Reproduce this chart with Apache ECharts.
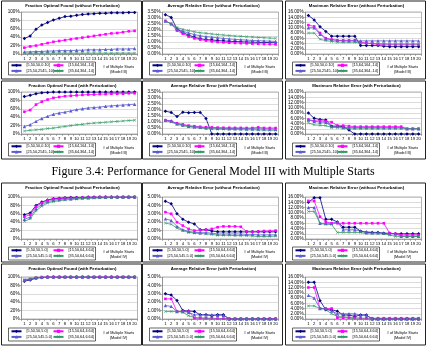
<!DOCTYPE html>
<html>
<head>
<meta charset="utf-8">
<script src="https://cdn.jsdelivr.net/npm/echarts@6.0.0/dist/echarts.min.js"></script>
<style>
  html, body { margin: 0; padding: 0; background: #fff; }
  #vis { width: 428px; height: 348px; }
</style>
</head>
<body>
<div id="vis"></div>
<script>
const starts = ['1','2','3','4','5','6','7','8','9','10','11','12','13','14','15','16','17','18','19','20'];
const namesIII = ['[5,50,50,0.10]', '[15,64,164,.14]', '[25,50,2545,.10]', '[35,64,364,.14]'];
const namesIV = ['[5,50,50,5.0]', '[15,50,64,4.64]', '[25,50,545,5.0]', '[35,50,64,6.64]'];
const caption = 'Figure 3.4: Performance for General Model III with Multiple Starts';

// Model III, values in percent
const fracNoPertIII = [
  [37,43,59,69,75,81,85,89,90,92,94,95,96,97,97,98,98,98,99,99],
  [15,18,20,23,26,29,31,33,35,37,39,41,43,45,47,49,50,52,54,55],
  [5,5,6,6,7,7,8,8,8,9,9,10,10,10,11,11,12,12,12,13],
  [2,2,2,2,2,2,2,2,2,2,2,2,2,2,2,2,2,2,2,2]
];
const avgNoPertIII = [
  [3.28,3.05,2.08,1.78,1.58,1.39,1.28,1.2,1.17,1.12,1.09,1.06,1.04,1.02,1.0,0.99,0.97,0.96,0.95,0.94],
  [2.75,2.5,1.95,1.7,1.45,1.3,1.2,1.12,1.05,1.0,0.97,0.94,0.92,0.9,0.88,0.86,0.85,0.83,0.82,0.8],
  [2.75,2.52,2.1,1.9,1.75,1.62,1.52,1.45,1.4,1.35,1.3,1.26,1.22,1.19,1.16,1.13,1.11,1.09,1.07,1.05],
  [2.75,2.52,2.2,2.05,1.95,1.85,1.77,1.72,1.67,1.62,1.58,1.54,1.5,1.47,1.44,1.41,1.38,1.36,1.33,1.31]
];
const maxNoPertIII = [
  [14.7,13,10.4,8.6,6.8,6.8,6.8,6.8,6.8,3.2,3.2,3.2,3.2,3.0,2.8,2.8,2.8,2.8,2.8,2.8],
  [11,10.5,8,6,5.5,5.2,5.2,5.2,5.2,4.5,4.2,4.0,3.6,3.5,3.5,3.5,3.5,3.5,3.5,3.5],
  [10,10,7.5,5.8,5.5,5.2,5.0,5.0,5.0,5.0,5.0,5.0,5.0,5.0,5.0,5.0,5.0,5.0,5.0,5.0],
  [8,8,5.6,5.1,4.8,4.5,4.5,4.5,4.5,4.1,4.0,4.0,4.0,3.9,3.8,3.8,3.8,3.8,3.8,3.8]
];
const fracPertIII = [
  [89,92,96,98,99,100,100,100,100,100,100,100,100,100,100,100,100,100,100,100],
  [53,57,70,77,82,86,88,90,91,92,93,94,94,95,95,96,96,96,97,97],
  [18,22,30,37,42,47,50,52,55,58,60,62,63,64,66,67,68,69,70,71],
  [7,9,10,11,13,14,16,18,20,22,23,25,26,27,28,29,30,31,32,33]
];
const avgPertIII = [
  [1.9,1.8,1.45,1.82,1.78,1.8,1.8,1.3,0,0,0,0,0,0,0,0,0,0,0,0],
  [1.15,1.05,0.9,0.8,0.7,0.65,0.6,0.57,0.55,0.53,0.52,0.52,0.51,0.51,0.5,0.5,0.55,0.5,0.5,0.5],
  [1.15,1.1,0.85,0.75,0.65,0.6,0.55,0.52,0.5,0.48,0.47,0.46,0.45,0.45,0.44,0.43,0.42,0.42,0.41,0.4],
  [1.1,1.0,0.8,0.7,0.6,0.55,0.5,0.45,0.42,0.4,0.39,0.38,0.37,0.36,0.35,0.35,0.34,0.33,0.32,0.31]
];
const maxPertIII = [
  [8,6,5.5,5.3,3,3,2.8,1.5,0,0,0,0,0,0,0,0,0,0,0,0],
  [5.5,5,5,4.8,4.5,3.2,3.2,3,2.8,2.8,2.8,2.8,2.8,2.8,2.8,2.8,2.8,2,2,2],
  [5.3,4.8,4.5,4.5,2.8,2.8,2.5,2.5,2.5,2.5,2.5,2.5,2.5,2.5,2.5,2.5,2.5,2,2,2],
  [4.2,3.5,3.3,3.2,2.5,2.5,2.2,2,2,2,2,2,2,2,2,2,2,2,2,2]
];

// Model IV, values in percent
const fracNoPertIV = [
  [58,62,80,88,93,96,97,98,99,99,99,100,100,100,100,100,100,100,100,100],
  [53,58,77,86,92,95,96,97,98,98,99,99,99,100,100,100,100,100,100,100],
  [47,52,72,82,89,92,94,95,96,97,98,98,99,99,99,100,100,100,100,100],
  [42,48,67,78,86,89,91,93,94,95,96,97,97,98,98,99,99,99,100,100]
];
const avgNoPertIV = [
  [4.5,4.2,3.0,2.35,2.0,1.8,1.1,1.1,0.95,0.85,0.85,0.85,0.85,0.85,0.85,0.85,0.85,0.85,0.85,0.85],
  [3.2,3.0,2.0,1.6,1.2,1.0,1.05,1.1,1.2,1.4,1.5,1.5,1.5,1.45,0.9,0.85,0.9,0.95,0.95,1.0],
  [2.4,2.2,1.5,1.1,0.9,0.8,0.75,0.75,0.7,0.6,0.6,0.6,0.6,0.6,0.55,0.55,0.5,0.5,0.5,0.5],
  [1.9,1.75,1.3,1.0,0.8,0.7,0.65,0.6,0.55,0.45,0.45,0.45,0.4,0.4,0.4,0.35,0.3,0.3,0.3,0.35]
];
const maxNoPertIV = [
  [14,15.7,15.7,7.5,7.5,6.5,4.5,4.5,4.5,3,2.5,2.5,2.5,2.2,2.2,2,2,2,2,2],
  [14.5,14.5,8.5,6.5,6,6,6,6,6,6,6,6,6,6,2.2,2,1.5,1.5,1.5,1.5],
  [12,12,6,6,6,6.5,3.5,3.5,3.5,3,2.8,2.5,2.5,2.2,2,2,1,1,1,1],
  [10.5,10.5,6,5.5,5.5,2.5,2.5,2.5,2.5,2.5,2,2,2,2,1.5,1,1,1,1,1]
];
const fracPertIV = [
  [90,93,97,99,100,100,100,100,100,100,100,100,100,100,100,100,100,100,100,100],
  [92,95,98,99,100,100,100,100,100,100,100,100,100,100,100,100,100,100,100,100],
  [93,95,98,100,100,100,100,100,100,100,100,100,100,100,100,100,100,100,100,100],
  [94,96,99,100,100,100,100,100,100,100,100,100,100,100,100,100,100,100,100,100]
];
const avgPertIV = [
  [3.0,2.85,2.2,1.0,0.95,0.9,0.5,0.5,0.4,0.5,0.5,0,0,0,0,0,0,0,0,0],
  [2.4,2.4,0.9,0.9,0.9,0.1,0.1,0.1,0.1,0.05,0.05,0.05,0.05,0.05,0.05,0.05,0.05,0.05,0.05,0.05],
  [1.6,1.5,0.9,0.9,0.8,0.5,0.5,0.5,0.5,0.45,0.45,0,0,0,0,0,0,0,0,0],
  [0.9,0.9,0.9,0.8,0.4,0.15,0.15,0.05,0,0,0,0,0,0,0,0,0,0,0,0]
];
const maxPertIV = [
  [14,14,7,3.5,3.5,3,1.5,1.5,1,1.5,1.5,0,0,0,0,0,0,0,0,0],
  [12,12,4,4,4,0.5,0.5,0.5,0.5,0.3,0.3,0.3,0.3,0.3,0.3,0.3,0.3,0.3,0.3,0.3],
  [9,8,4,4,3,2,2,2,2,1.5,1.5,0,0,0,0,0,0,0,0,0],
  [5,5,4,3.5,2,1,1,0.5,0,0,0,0,0,0,0,0,0,0,0,0]
];

const colors = ['#000080', '#ff00ff', '#5a5ad2', '#339966'];
const symbols = ['diamond', 'rect', 'triangle',
  'path://M0,1L1,0L5,4L9,0L10,1L6,5L10,9L9,10L5,6L1,10L0,9L4,5Z'];
const symbolSizes = [3.5, 2.6, 3.4, 3];

const FONT = '"Liberation Sans", Arial, sans-serif';

const charts = [
  {title: 'Fraction Optimal Found (without Perturbation)', data: fracNoPertIII, max: 100, step: 20, frac: true, names: namesIII, model: '(Model III)', col: 0, row: 0},
  {title: 'Average Relative Error (without Perturbation)', data: avgNoPertIII, max: 3.5, step: 0.5, names: namesIII, model: '(Model III)', col: 1, row: 0},
  {title: 'Maximum Relative Error (without Perturbation)', data: maxNoPertIII, max: 16, step: 2, names: namesIII, model: '(Model III)', col: 2, row: 0},
  {title: 'Fraction Optimal Found (with Perturbation)', data: fracPertIII, max: 100, step: 20, frac: true, names: namesIII, model: '(Model III)', col: 0, row: 1},
  {title: 'Average Relative Error (with Perturbation)', data: avgPertIII, max: 3.5, step: 0.5, names: namesIII, model: '(Model III)', col: 1, row: 1},
  {title: 'Maximum Relative Error (with Perturbation)', data: maxPertIII, max: 16, step: 2, names: namesIII, model: '(Model III)', col: 2, row: 1},
  {title: 'Fraction Optimal Found (without Perturbation)', data: fracNoPertIV, max: 100, step: 20, frac: true, names: namesIV, model: '(Model IV)', col: 0, row: 2},
  {title: 'Average Relative Error (without Perturbation)', data: avgNoPertIV, max: 5, step: 1, names: namesIV, model: '(Model IV)', col: 1, row: 2},
  {title: 'Maximum Relative Error (without Perturbation)', data: maxNoPertIV, max: 16, step: 2, names: namesIV, model: '(Model IV)', col: 2, row: 2},
  {title: 'Fraction Optimal Found (with Perturbation)', data: fracPertIV, max: 100, step: 20, frac: true, names: namesIV, model: '(Model IV)', col: 0, row: 3},
  {title: 'Average Relative Error (with Perturbation)', data: avgPertIV, max: 5, step: 1, names: namesIV, model: '(Model IV)', col: 1, row: 3},
  {title: 'Maximum Relative Error (with Perturbation)', data: maxPertIV, max: 16, step: 2, names: namesIV, model: '(Model IV)', col: 2, row: 3}
];

// panel geometry per row / column (page pixels)
const rowBox = [
  {top: 1, h: 78, title: 6, plotTop: 12, plotBottom: 54, legend: 62},
  {top: 81, h: 78, title: 86, plotTop: 92, plotBottom: 134, legend: 143},
  {top: 183, h: 79, title: 188, plotTop: 197, plotBottom: 239, legend: 247},
  {top: 264, h: 81, title: 269, plotTop: 277, plotBottom: 319, legend: 328}
];
const colX = [1.5, 142.5, 285.5];
const colW = 140;

function text(x, y, str, size, family) {
  return {
    type: 'text', x: x, y: y, silent: true,
    style: {text: str, fontSize: size, fontFamily: family || FONT, fill: '#000',
      textAlign: 'center', textVerticalAlign: 'middle'}
  };
}

function buildOption() {
  const grid = [], xAxis = [], yAxis = [], series = [], legend = [], graphic = [];

  charts.forEach((c, k) => {
    const box = rowBox[c.row];
    const px = colX[c.col];

    graphic.push({type: 'rect', silent: true,
      shape: {x: px, y: box.top, width: colW, height: box.h},
      style: {fill: 'none', stroke: '#222', lineWidth: 1}});
    const t = text(px + 71, box.title, c.title, 4.3);
    t.style.fontWeight = 'bold';
    graphic.push(t);

    // legend frame + axis caption
    graphic.push({type: 'rect', silent: true,
      shape: {x: px + 7, y: box.legend, width: 87, height: 13},
      style: {fill: 'none', stroke: '#000', lineWidth: 0.6}});
    graphic.push(text(px + 117, box.legend + 4.5, '# of Multiple Starts', 3.8));
    graphic.push(text(px + 117, box.legend + 9.5, c.model, 3.8));

    grid.push({
      left: px + 20, top: box.plotTop, width: 116, height: box.plotBottom - box.plotTop,
      show: true, backgroundColor: '#fff', borderColor: '#808080', borderWidth: 0.6
    });
    xAxis.push({
      gridIndex: k, type: 'category', data: starts, boundaryGap: true,
      axisLine: {lineStyle: {color: '#808080', width: 0.6}},
      axisTick: {show: true, length: 2, lineStyle: {color: '#808080', width: 0.6}},
      axisLabel: {interval: 0, fontSize: 4.2, color: '#000', margin: 2.5, fontFamily: FONT},
      splitLine: {show: false}
    });
    yAxis.push({
      gridIndex: k, type: 'value', min: 0, max: c.max, interval: c.step,
      axisLine: {show: true, lineStyle: {color: '#808080', width: 0.6}},
      axisTick: {show: true, length: 2, lineStyle: {color: '#808080', width: 0.6}},
      axisLabel: {
        fontSize: 4.6, color: '#000', margin: 2, fontFamily: FONT,
        formatter: c.frac ? (v => v + '%') : (v => v.toFixed(2) + '%')
      },
      splitLine: {show: true, lineStyle: {color: '#b8b8b8', width: 0.5}}
    });

    c.data.forEach((vals, s) => {
      series.push({
        type: 'line', name: c.names[s], xAxisIndex: k, yAxisIndex: k,
        data: vals, symbol: symbols[s], symbolSize: symbolSizes[s],
        showSymbol: true, silent: true, animation: false,
        lineStyle: {width: 0.8, color: colors[s]},
        itemStyle: {color: colors[s]}
      });
      legend.push({
        left: px + 9 + (s % 2) * 42, top: box.legend + 1.3 + Math.floor(s / 2) * 5.6,
        orient: 'horizontal', padding: 0, itemGap: 0, itemWidth: 10, itemHeight: 4,
        selectedMode: false, data: [c.names[s]],
        textStyle: {fontSize: 3.8, color: '#000', fontFamily: FONT}
      });
    });
  });

  graphic.push(text(213, 172, caption, 12, '"Liberation Serif", "Times New Roman", serif'));

  return {
    backgroundColor: '#fff',
    animation: false,
    grid, xAxis, yAxis, series, legend,
    graphic: {elements: graphic}
  };
}

const chart = echarts.init(document.getElementById('vis'), null, {renderer: 'canvas'});
chart.setOption(buildOption());
</script>
</body>
</html>
